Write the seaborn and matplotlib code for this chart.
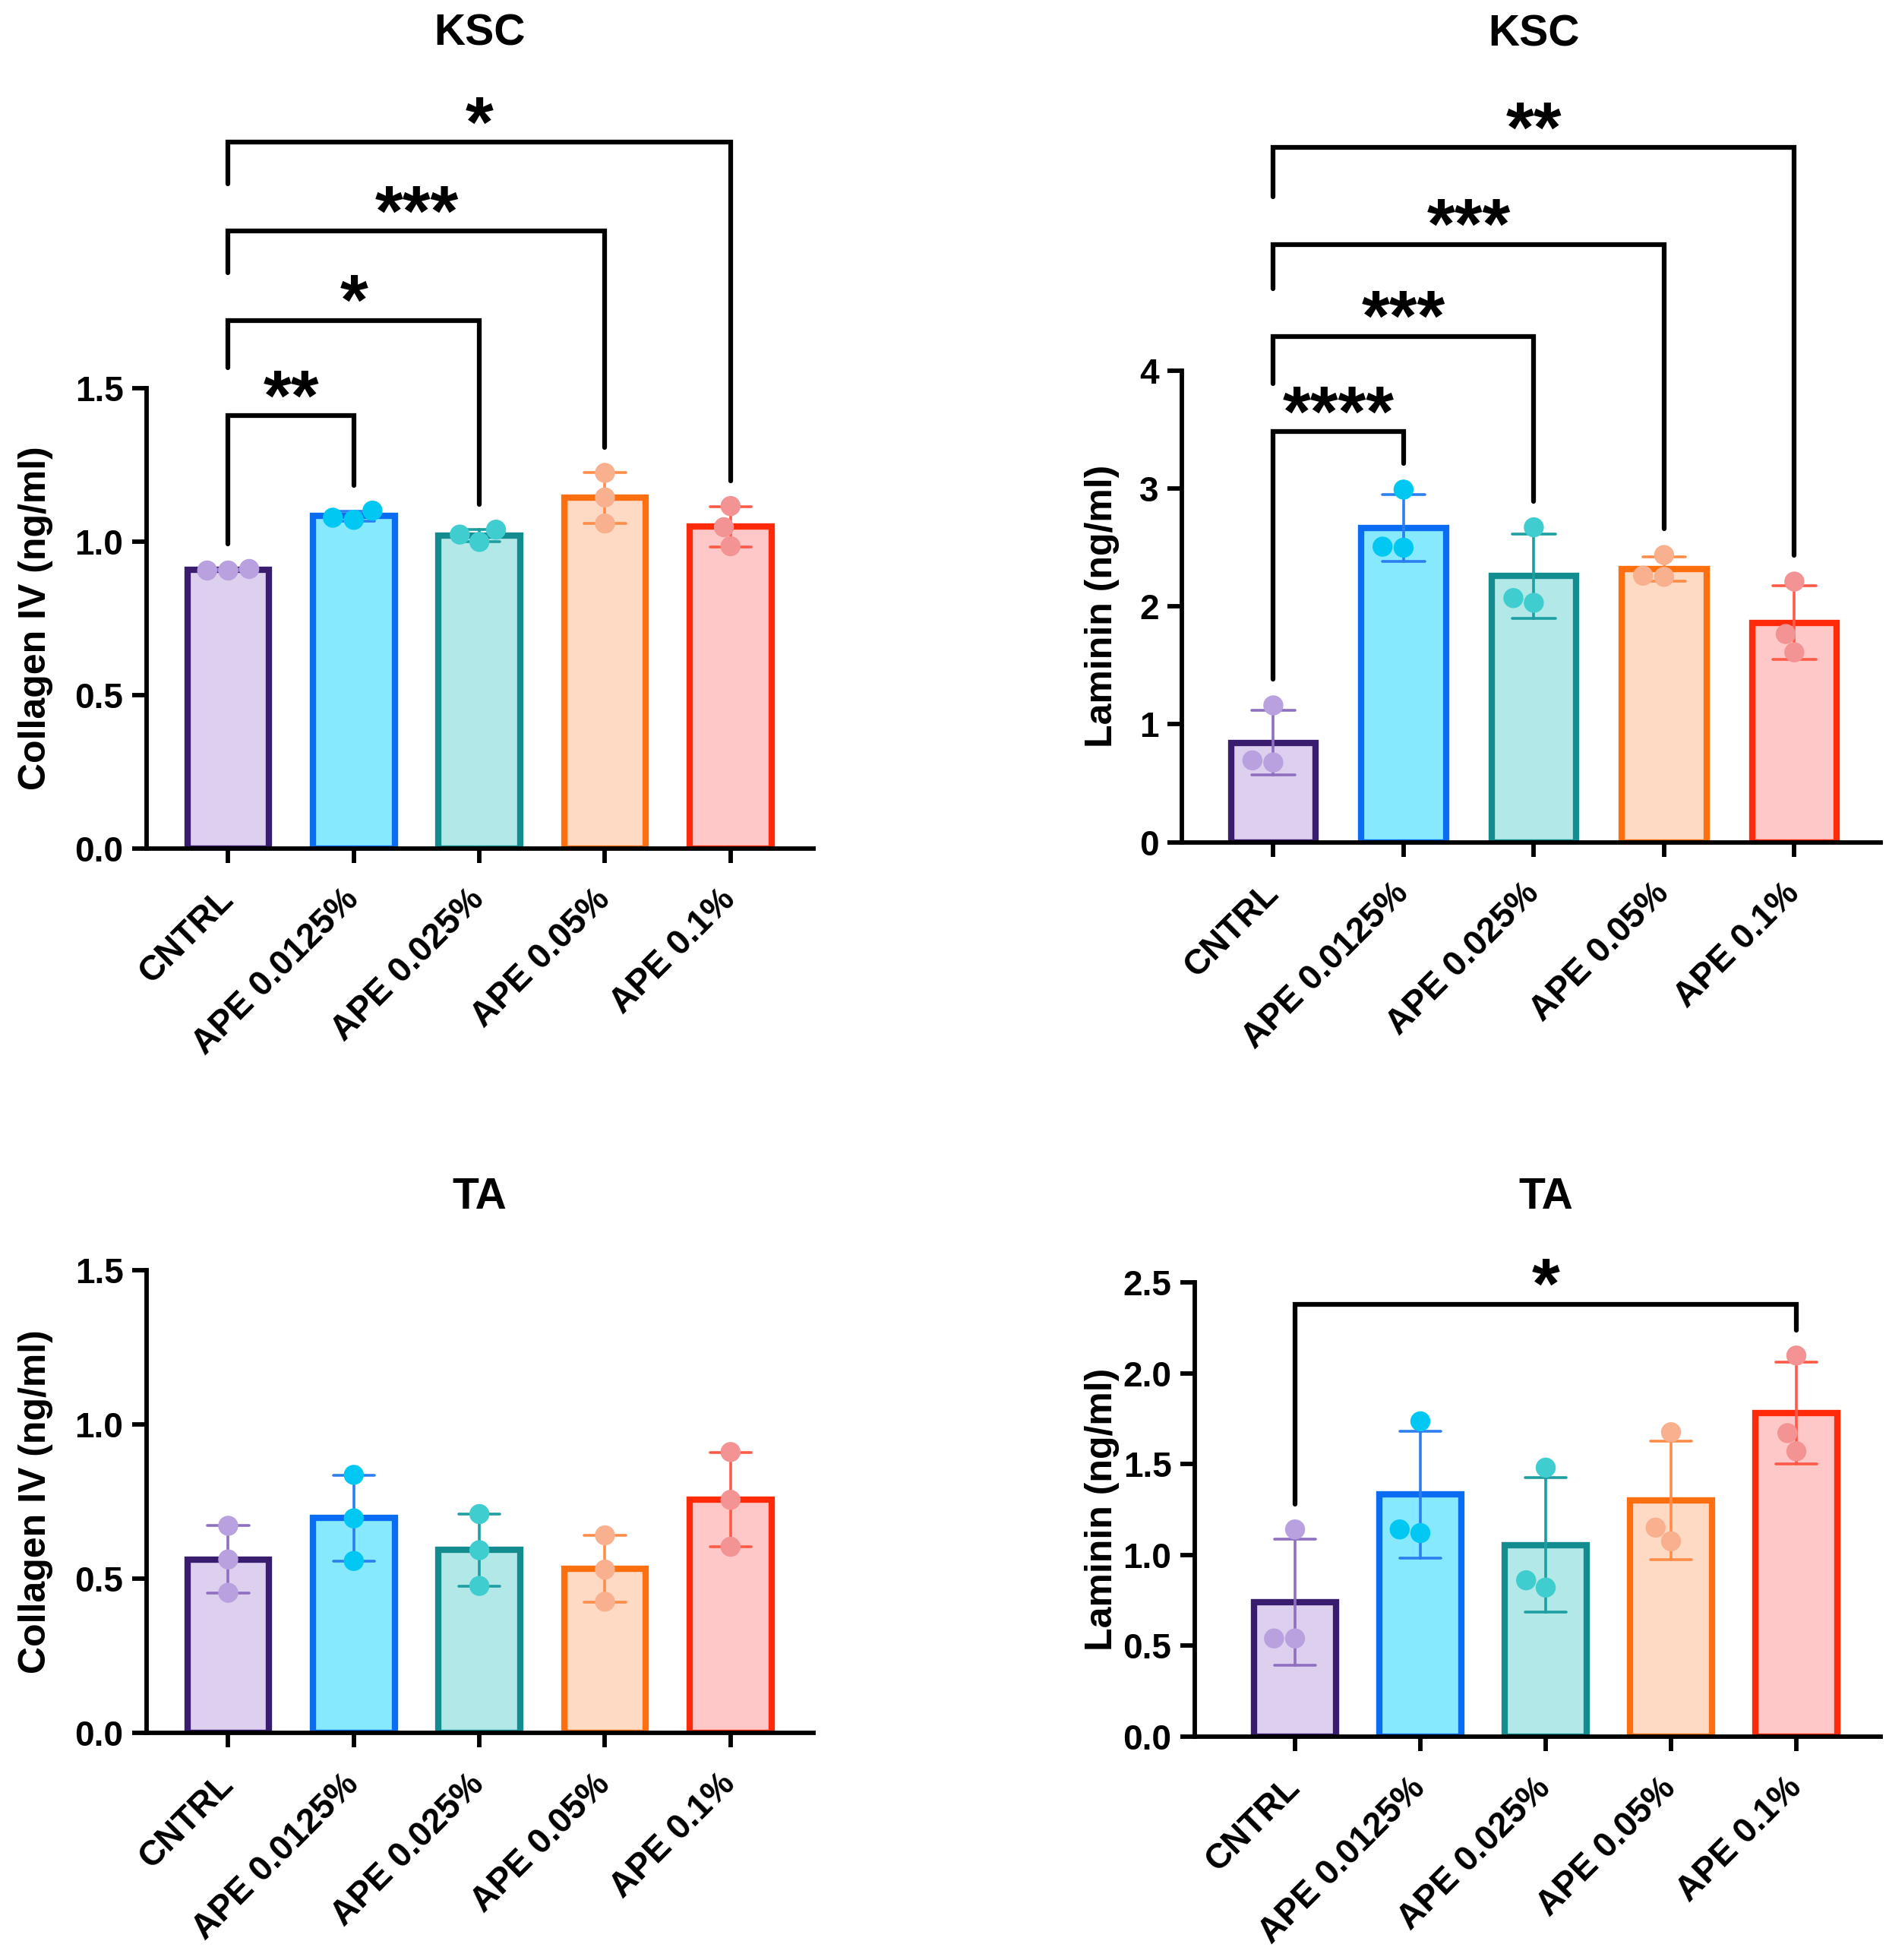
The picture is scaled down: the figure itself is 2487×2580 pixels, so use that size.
import numpy as np
import pandas as pd
import seaborn as sns
import matplotlib.pyplot as plt

# groups and the three replicate values
groups = ['CNTRL', 'APE 0.0125%', 'APE 0.025%', 'APE 0.05%', 'APE 0.1%']

col_ksc = [[0.905, 0.91, 0.905], [1.07, 1.10, 1.077], [0.998, 1.038, 1.022],
           [1.223, 1.143, 1.058], [1.115, 1.046, 0.984]]
lam_ksc = [[1.16, 0.676, 0.694], [2.99, 2.497, 2.506], [2.67, 2.03, 2.07],
           [2.435, 2.25, 2.26], [2.21, 1.765, 1.61]]
col_ta = [[0.671, 0.562, 0.454], [0.836, 0.695, 0.557], [0.709, 0.592, 0.476],
          [0.64, 0.529, 0.425], [0.91, 0.755, 0.603]]
lam_ta = [[1.14, 0.54, 0.54], [1.735, 1.12, 1.14], [1.48, 0.82, 0.86],
          [1.675, 1.075, 1.15], [2.097, 1.67, 1.57]]

col_ticks = [0.0, 0.5, 1.0, 1.5]
col_ticklabels = ['0.0', '0.5', '1.0', '1.5']
lam_ksc_ticks = [0, 1, 2, 3, 4]
lam_ksc_ticklabels = ['0', '1', '2', '3', '4']
lam_ta_ticks = [0.0, 0.5, 1.0, 1.5, 2.0, 2.5]
lam_ta_ticklabels = ['0.0', '0.5', '1.0', '1.5', '2.0', '2.5']

# significance comparisons (all against CNTRL)
sig_col_ksc = [('APE 0.0125%', '**'), ('APE 0.025%', '*'), ('APE 0.05%', '***'), ('APE 0.1%', '*')]
sig_lam_ksc = [('APE 0.0125%', '****'), ('APE 0.025%', '***'), ('APE 0.05%', '***'), ('APE 0.1%', '**')]
sig_lam_ta = [('APE 0.1%', '*')]
bracket_col_ksc = [1.41, 1.72, 2.01, 2.30]
bracket_lam_ksc = [3.48, 4.29, 5.07, 5.89]
bracket_lam_ta = [2.38]

fill_colors = ['#DDD0EF', '#86E9FD', '#B3E8E8', '#FEDAC5', '#FEC8C8']
edge_colors = ['#3A1C6E', '#0A6CF2', '#138C8F', '#FF6F0F', '#FF2A0A']
point_colors = ['#B9A0DE', '#00C8F2', '#40CDD0', '#F9B08E', '#F49393']
err_colors = ['#8F6FC0', '#2C7FEF', '#1D9EA2', '#FF8D4A', '#FF5A48']

sns.set_style('ticks')
plt.rcParams['font.family'] = ['Liberation Sans', 'DejaVu Sans']
plt.rcParams['font.weight'] = 'bold'
plt.rcParams['axes.linewidth'] = 4.2
for key in ['text.color', 'axes.labelcolor', 'xtick.color', 'ytick.color', 'axes.edgecolor']:
    plt.rcParams[key] = 'black'

FIG_W = 2487


def draw_panel(ax, values, title, ylabel, ticks, ticklabels, ytop, xlim, title_y,
               label_offset_px, sigs=None, heights=None):
    df = pd.DataFrame({'group': np.repeat(groups, [len(v) for v in values]),
                       'value': np.concatenate(values)})
    sns.barplot(data=df, x='group', y='value', hue='group', order=groups, hue_order=groups,
                palette=fill_colors, saturation=1, errorbar='sd', capsize=0.33, width=0.65,
                linewidth=6, edgecolor='k', err_kws={'linewidth': 2.6},
                legend=False, ax=ax)
    for patch, c in zip(ax.patches, edge_colors):
        patch.set_edgecolor(c)
    for line, c in zip(ax.lines, err_colors):
        line.set_color(c)
    sns.swarmplot(data=df, x='group', y='value', hue='group', order=groups, hue_order=groups,
                  palette=point_colors, size=19, linewidth=0, legend=False, zorder=3, ax=ax)

    ax.set_ylim(0, ytop)
    ax.set_xlim(*xlim)
    ax.set_yticks(ticks)
    ax.set_yticklabels(ticklabels)
    sns.despine(ax=ax)
    ax.spines['left'].set_bounds(ticks[0], ticks[-1])
    ax.tick_params(axis='both', length=14, width=4.2, labelsize=33, pad=8)
    ax.tick_params(axis='x', labelsize=33, pad=30)
    plt.setp(ax.get_xticklabels(), rotation=45, ha='right', va='center',
             rotation_mode='anchor', fontweight='bold')
    plt.setp(ax.get_yticklabels(), fontweight='bold')
    ax.set_xlabel('')
    ax.set_ylabel(ylabel, fontsize=36, fontweight='bold')
    width_px = ax.get_position().width * FIG_W
    ax.yaxis.set_label_coords(-label_offset_px / width_px, (ticks[-1] / 2) / ytop)
    ax.text(2, title_y, title, transform=ax.get_xaxis_transform(), ha='center',
            va='center', fontsize=41, fontweight='bold')

    if sigs:
        gap = 0.055 * ticks[-1]
        step = heights[1] - heights[0] if len(heights) > 1 else 0
        prev = max(values[0]) + gap
        for (target, label), h in zip(sigs, heights):
            j = groups.index(target)
            right_bottom = max(values[j]) + gap
            ax.plot([0, 0, j, j], [prev, h, h, right_bottom], color='black',
                    linewidth=4.5, solid_joinstyle='miter', clip_on=False, zorder=4)
            ax.annotate(label, xy=(j / 2, h), xytext=(0, -4), textcoords='offset points',
                        ha='center', va='baseline', fontsize=68, fontweight='bold',
                        annotation_clip=False)
            prev = h + 0.5 * step


fig = plt.figure(figsize=(24.87, 25.80), dpi=100)
ax_a = fig.add_axes([0.0776, 0.5672, 0.3530, 0.3837])
ax_b = fig.add_axes([0.6258, 0.5703, 0.3696, 0.3791])
ax_c = fig.add_axes([0.0776, 0.1159, 0.3530, 0.2519])
ax_d = fig.add_axes([0.6325, 0.1140, 0.3629, 0.2503])

draw_panel(ax_a, col_ksc, 'KSC', 'Collagen IV (ng/ml)', col_ticks, col_ticklabels,
           2.45, (-0.65, 4.66), 1.083, 123, sig_col_ksc, bracket_col_ksc)
draw_panel(ax_b, lam_ksc, 'KSC', 'Laminin (ng/ml)', lam_ksc_ticks, lam_ksc_ticklabels,
           6.3, (-0.70, 4.66), 1.087, 82, sig_lam_ksc, bracket_lam_ksc)
draw_panel(ax_c, col_ta, 'TA', 'Collagen IV (ng/ml)', col_ticks, col_ticklabels,
           1.6, (-0.65, 4.66), 1.084, 123)
draw_panel(ax_d, lam_ta, 'TA', 'Laminin (ng/ml)', lam_ta_ticks, lam_ta_ticklabels,
           2.7, (-0.80, 4.67), 1.099, 99, sig_lam_ta, bracket_lam_ta)

fig.savefig('out.png', dpi=100, facecolor='white')
